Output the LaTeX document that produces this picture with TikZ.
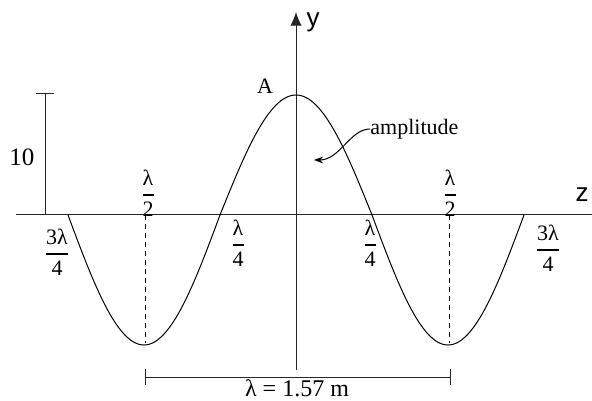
\documentclass[tikz,border=0pt]{standalone}
\usepackage{amsmath}
\usepackage{fontspec}
\setmainfont{Liberation Serif}
\newfontfamily\axfont{Liberation Sans}
\usetikzlibrary{arrows.meta,positioning}
\newcommand\wfrac[2]{$\displaystyle\genfrac{}{}{1pt}{}{\mbox{#1}}{\mbox{#2}}$}
\tikzset{
  >={Stealth[length=1.6mm,width=1.2mm]},
  axis/.style={line width=0.5pt,draw=black!85},
  wave/.style={line width=0.5pt,draw=black},
  guide/.style={dashed,dash pattern=on 2.5pt off 2pt,line width=0.4pt},
  tag/.style={font=\fontsize{11}{13}\selectfont,inner sep=0pt},
  axtag/.style={font=\axfont\fontsize{13}{15}\selectfont,inner sep=0pt},
  frtag/.style={font=\fontsize{11}{12}\selectfont,inner sep=0pt},
}
\begin{document}
\begin{tikzpicture}[x=0.5pt,y=-0.5pt]
  \useasboundingbox (0,0) rectangle (592,400);
  % axes
  \coordinate (zl) at (16,215);
  \coordinate (zr) at (592,215);
  \coordinate (yb) at (296,370);
  \coordinate (yt) at (296,12);
  \draw[axis] (zl) -- (zr);
  \draw[axis,-{Latex[length=2.4mm,width=2mm]}] (yb) -- (yt);
  \node[axtag] (ylab) at (313,22) {y};
  \node[axtag] (zlab) at (582,195) {z};
  % wave
  \draw[wave] plot[domain=68:524,samples=181,smooth]
    (\x,{215-(abs(\x-296)<76 ? 120 : 130)*cos((\x-296)/304*360)});
  \node[tag] (peak) at (265,86) {A};
  % amplitude scale
  \coordinate (s0) at (45,215);
  \coordinate (s1) at (45,94);
  \draw[axis] (s0) -- (s1);
  \draw[axis] ([xshift=-4.5pt]s1) -- ([xshift=4.5pt]s1);
  \node[tag,font=\fontsize{12.5}{14}\selectfont] (ten) at (22,157) {10};
  % troughs
  \coordinate (m1) at (145,215);
  \coordinate (m2) at (449,215);
  \coordinate (b1) at (145,343);
  \coordinate (b2) at (449,343);
  \draw[guide] (m1) -- (b1);
  \draw[guide] (m2) -- (b2);
  % fraction labels
  \foreach \t/\b/\px/\py [count=\i] in {λ/2/148/193, λ/2/450/193, 3λ/4/57/252, λ/4/238/243, λ/4/370/243, 3λ/4/548/248}{
    \node[frtag] (f\i) at (\px,\py) {\wfrac{\t}{\b}};
  }
  % amplitude pointer
  \node[tag,anchor=west] (amp) at (370,129) {amplitude};
  \coordinate (tip) at (314,160);
  \draw[wave,->] (amp.west) .. controls (350,129) and (340,160) .. (tip);
  % wavelength
  \coordinate (d1) at (145,377);
  \coordinate (d2) at (450,377);
  \draw[axis] (d1) -- (d2);
  \draw[axis] ([yshift=4pt]d1) -- ([yshift=-4pt]d1);
  \draw[axis] ([yshift=4pt]d2) -- ([yshift=-4pt]d2);
  \node[tag,font=\fontsize{12}{14}\selectfont,anchor=base] (lam) at (297,396) {λ = 1.57 m};
\end{tikzpicture}
\end{document}
